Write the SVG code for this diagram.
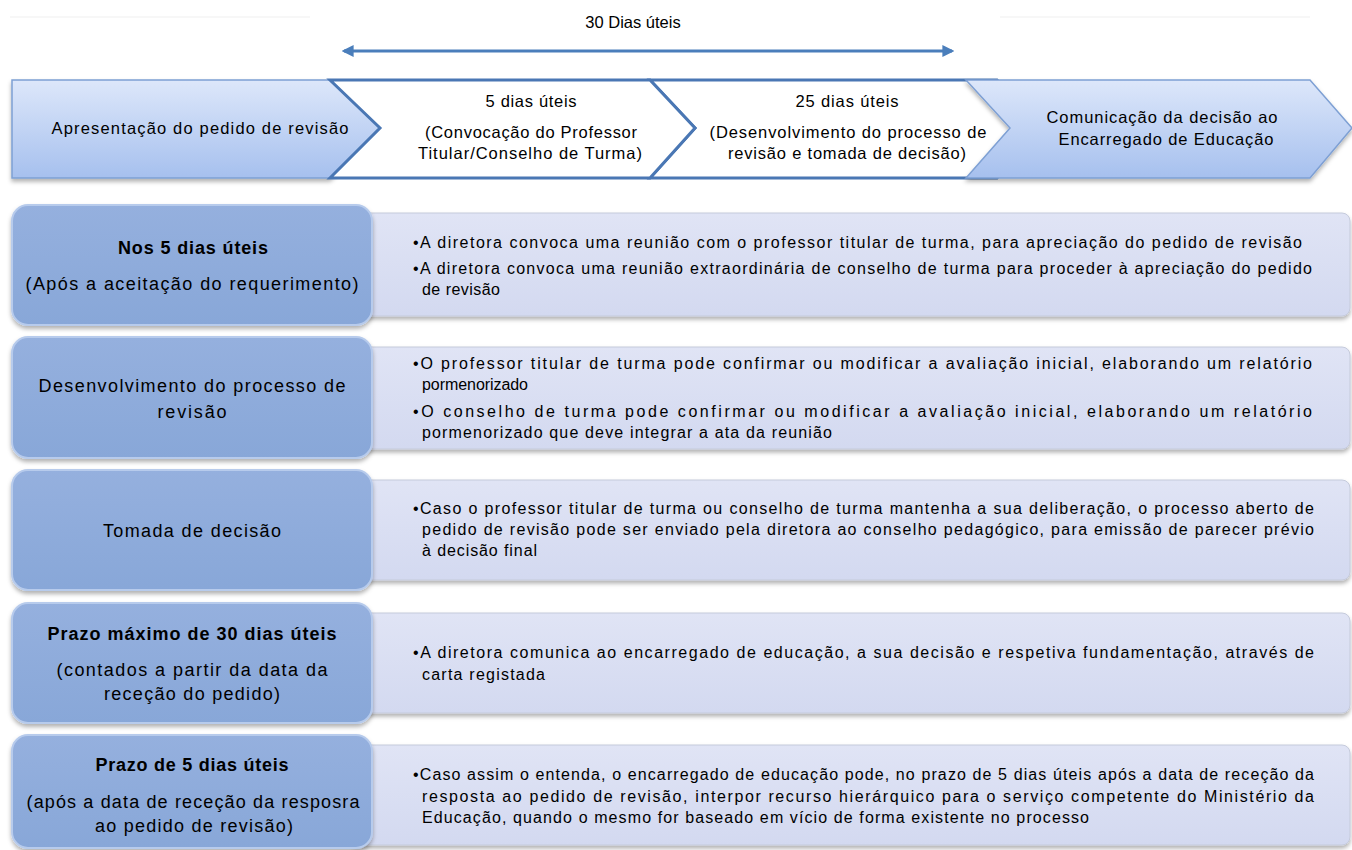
<svg xmlns="http://www.w3.org/2000/svg" width="1352" height="850" viewBox="0 0 1352 850">
<defs>
<linearGradient id="gHead" x1="0" y1="0" x2="0" y2="1">
<stop offset="0" stop-color="#dde7fa"/><stop offset="1" stop-color="#a6c0ee"/>
</linearGradient>
<linearGradient id="gLeft" x1="0" y1="0" x2="0" y2="1">
<stop offset="0" stop-color="#95b0de"/><stop offset="1" stop-color="#88a7d8"/>
</linearGradient>
<linearGradient id="gRight" x1="0" y1="0" x2="0" y2="1">
<stop offset="0" stop-color="#e0e4f5"/><stop offset="1" stop-color="#d3d9f0"/>
</linearGradient>
<filter id="sh" x="-5%" y="-10%" width="110%" height="125%">
<feDropShadow dx="0" dy="3" stdDeviation="2" flood-color="#000" flood-opacity="0.3"/>
</filter>
<marker id="ah" viewBox="0 0 10 10" refX="8" refY="5" markerWidth="4" markerHeight="4" orient="auto-start-reverse" markerUnits="strokeWidth">
<path d="M0,0 L10,5 L0,10 z" fill="#4a7ebb"/>
</marker>
<style>
.t{font-family:"Liberation Sans",Arial,sans-serif;fill:#000}
.rt{font-size:16px}
.lt{font-size:18px}
.ht{font-size:16.5px}
.b{font-weight:bold}
.head{fill:url(#gHead);stroke:#7ea0d4;stroke-width:1.5;filter:url(#sh)}
.chev{fill:#fff;stroke:#4a77b4;stroke-width:3;stroke-linejoin:miter}
.lb{fill:url(#gLeft);stroke:#b7cbec;stroke-width:2;filter:url(#sh)}
.rb{fill:url(#gRight);stroke:#c4cadb;stroke-width:1;filter:url(#sh)}
</style>
</defs>
<rect width="1352" height="850" fill="#fff"/>
<line x1="10" y1="17" x2="310" y2="17" stroke="#efefef" stroke-width="1"/>
<line x1="1000" y1="17" x2="1310" y2="17" stroke="#efefef" stroke-width="1"/>

<g id="timeline-label">
<text class="t ht" x="633" y="28" text-anchor="middle">30 Dias úteis</text>
</g>
<g id="connectors">
<line x1="344" y1="51" x2="952" y2="51" stroke="#4a7ebb" stroke-width="3" marker-start="url(#ah)" marker-end="url(#ah)"/>
</g>

<g id="step1">
<polygon class="head" points="12,80 330,80 380,128 330,178 12,178"/>
<text class="t ht" x="200" y="134" text-anchor="middle" textLength="297" lengthAdjust="spacing">Apresentação do pedido de revisão</text>
</g>
<g id="step3">
<polygon class="chev" points="650,80 997,80 1042,128 997,178 650,178 695,128"/>
<text class="t ht" x="847" y="107" text-anchor="middle" textLength="103" lengthAdjust="spacing">25 dias úteis</text>
<text class="t ht" x="848" y="138" text-anchor="middle" textLength="277" lengthAdjust="spacing">(Desenvolvimento do processo de</text>
<text class="t ht" x="847" y="159" text-anchor="middle" textLength="238" lengthAdjust="spacing">revisão e tomada de decisão)</text>
</g>
<g id="step2">
<polygon class="chev" points="330,80 650,80 695,128 650,178 330,178 380,128"/>
<text class="t ht" x="531" y="107" text-anchor="middle" textLength="91" lengthAdjust="spacing">5 dias úteis</text>
<text class="t ht" x="531" y="138" text-anchor="middle" textLength="212" lengthAdjust="spacing">(Convocação do Professor</text>
<text class="t ht" x="530" y="159" text-anchor="middle" textLength="224" lengthAdjust="spacing">Titular/Conselho de Turma)</text>
</g>
<g id="step4">
<polygon class="head" points="966,80 1310,80 1352,128 1310,178 966,178 1010,128"/>
<text class="t ht" x="1162" y="123" text-anchor="middle" textLength="231" lengthAdjust="spacing">Comunicação da decisão ao</text>
<text class="t ht" x="1166" y="145" text-anchor="middle" textLength="215" lengthAdjust="spacing">Encarregado de Educação</text>
</g>

<g id="row1">
<rect class="rb" x="350" y="213" width="1000" height="103" rx="8"/>
<rect class="lb" x="12" y="205" width="360" height="120" rx="16"/>
<text class="t lt b" x="193" y="254" text-anchor="middle" textLength="150" lengthAdjust="spacing">Nos 5 dias úteis</text>
<text class="t lt" x="192" y="290" text-anchor="middle" textLength="333" lengthAdjust="spacing">(Após a aceitação do requerimento)</text>
<text class="t rt" x="413" y="248" textLength="889" lengthAdjust="spacing">•A diretora convoca uma reunião com o professor titular de turma, para apreciação do pedido de revisão</text>
<text class="t rt" x="413" y="274" textLength="899" lengthAdjust="spacing">•A diretora convoca uma reunião extraordinária de conselho de turma para proceder à apreciação do pedido</text>
<text class="t rt" x="422" y="295" textLength="78" lengthAdjust="spacing">de revisão</text>
</g>

<g id="row2">
<rect class="rb" x="350" y="347" width="1000" height="102" rx="8"/>
<rect class="lb" x="12" y="337" width="360" height="121" rx="16"/>
<text class="t lt" x="192" y="392" text-anchor="middle" textLength="307" lengthAdjust="spacing">Desenvolvimento do processo de</text>
<text class="t lt" x="192" y="418" text-anchor="middle" textLength="69" lengthAdjust="spacing">revisão</text>
<text class="t rt" x="413" y="369" textLength="899" lengthAdjust="spacing">•O professor titular de turma pode confirmar ou modificar a avaliação inicial, elaborando um relatório</text>
<text class="t rt" x="422" y="390" textLength="106" lengthAdjust="spacing">pormenorizado</text>
<text class="t rt" x="413" y="417" textLength="899" lengthAdjust="spacing">•O conselho de turma pode confirmar ou modificar a avaliação inicial, elaborando um relatório</text>
<text class="t rt" x="422" y="438" textLength="410" lengthAdjust="spacing">pormenorizado que deve integrar a ata da reunião</text>
</g>

<g id="row3">
<rect class="rb" x="350" y="480" width="1000" height="100" rx="8"/>
<rect class="lb" x="12" y="470" width="360" height="120" rx="16"/>
<text class="t lt" x="192" y="537" text-anchor="middle" textLength="178" lengthAdjust="spacing">Tomada de decisão</text>
<text class="t rt" x="413" y="514" textLength="901" lengthAdjust="spacing">•Caso o professor titular de turma ou conselho de turma mantenha a sua deliberação, o processo aberto de</text>
<text class="t rt" x="422" y="535" textLength="892" lengthAdjust="spacing">pedido de revisão  pode ser enviado pela diretora ao conselho pedagógico, para emissão de parecer prévio</text>
<text class="t rt" x="422" y="556" textLength="115" lengthAdjust="spacing">à decisão final</text>
</g>

<g id="row4">
<rect class="rb" x="350" y="613" width="1000" height="100" rx="8"/>
<rect class="lb" x="12" y="603" width="360" height="120" rx="16"/>
<text class="t lt b" x="192" y="640" text-anchor="middle" textLength="289" lengthAdjust="spacing">Prazo máximo de 30 dias úteis</text>
<text class="t lt" x="192" y="676" text-anchor="middle" textLength="271" lengthAdjust="spacing">(contados a partir da data da</text>
<text class="t lt" x="192" y="700" text-anchor="middle" textLength="176" lengthAdjust="spacing">receção do pedido)</text>
<text class="t rt" x="413" y="658" textLength="901" lengthAdjust="spacing">•A diretora comunica ao encarregado de educação, a sua decisão e respetiva fundamentação, através de</text>
<text class="t rt" x="422" y="680" textLength="123" lengthAdjust="spacing">carta registada</text>
</g>

<g id="row5">
<rect class="rb" x="350" y="745" width="1000" height="100" rx="8"/>
<rect class="lb" x="12" y="735" width="360" height="113" rx="16"/>
<text class="t lt b" x="192" y="771" text-anchor="middle" textLength="193" lengthAdjust="spacing">Prazo de 5 dias úteis</text>
<text class="t lt" x="193" y="808" text-anchor="middle" textLength="333" lengthAdjust="spacing">(após a data de receção da resposra</text>
<text class="t lt" x="194" y="832" text-anchor="middle" textLength="198" lengthAdjust="spacing">ao pedido de revisão)</text>
<text class="t rt" x="413" y="780" textLength="901" lengthAdjust="spacing">•Caso assim o entenda, o encarregado de educação pode, no prazo de 5 dias úteis após a data de receção da</text>
<text class="t rt" x="422" y="802" textLength="892" lengthAdjust="spacing">resposta ao pedido de revisão, interpor recurso hierárquico para o serviço competente do Ministério da</text>
<text class="t rt" x="422" y="823" textLength="667" lengthAdjust="spacing">Educação, quando o mesmo for baseado em vício de forma existente no processo</text>
</g>
</svg>
